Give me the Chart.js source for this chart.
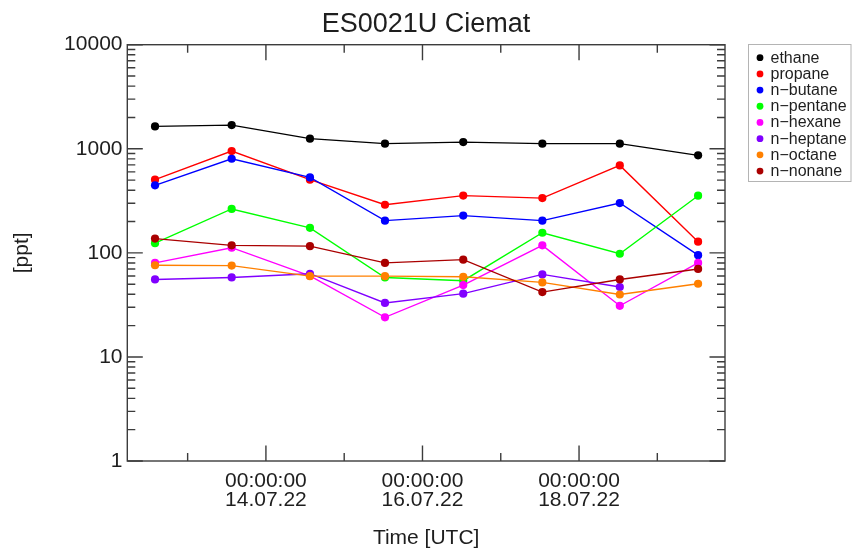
<!DOCTYPE html>
<html>
<head>
<meta charset="utf-8">
<title>ES0021U Ciemat</title>
<script src="https://cdn.jsdelivr.net/npm/chart.js@4/dist/chart.umd.min.js"></script>
<style>
  html, body { margin: 0; padding: 0; background: #ffffff; }
  canvas { display: block; }
</style>
</head>
<body>
<canvas id="chart" width="852" height="553"></canvas>
<script>
// Sampling times (UTC) of the canister samples
const sampleTimes = [
  '2022-07-12T14:00:00Z', '2022-07-13T13:30:00Z', '2022-07-14T13:30:00Z', '2022-07-15T12:30:00Z',
  '2022-07-16T12:30:00Z', '2022-07-17T12:45:00Z', '2022-07-18T12:30:00Z', '2022-07-19T12:30:00Z'
];

// Mixing ratios in ppt
const ethane    = [1640, 1690, 1250, 1120, 1160, 1120, 1120, 865];
const propane   = [505, 950, 505, 290, 355, 336, 692, 128];
const nButane   = [445, 802, 531, 204, 228, 204, 301, 95];
const nPentane  = [124, 264, 174, 58, 54, 156, 98, 354];
const nHexane   = [80, 112, 60, 24, 49, 118, 31, 80];
const nHeptane  = [55.5, 58, 63, 33, 40.5, 62, 47, null];
const nOctane   = [76, 75.5, 59.7, 59.7, 58.9, 52, 39.8, 50.5];
const nNonane   = [137, 118, 116, 80, 86, 42, 55.5, 70];

const seriesNames  = ['ethane', 'propane', 'n\u2212butane', 'n\u2212pentane', 'n\u2212hexane', 'n\u2212heptane', 'n\u2212octane', 'n\u2212nonane'];
const seriesValues = [ethane, propane, nButane, nPentane, nHexane, nHeptane, nOctane, nNonane];
const seriesColors = ['#000000', '#ff0000', '#0000ff', '#00ff00', '#ff00ff', '#8000ff', '#ff8000', '#aa0000'];

// Axis ranges and tick marks
const xRange       = ['2022-07-12T05:30:00Z', '2022-07-19T20:45:00Z'];
const xMajorTicks  = ['2022-07-14T00:00:00Z', '2022-07-16T00:00:00Z', '2022-07-18T00:00:00Z'];
const xMinorTicks  = ['2022-07-13T00:00:00Z', '2022-07-15T00:00:00Z', '2022-07-17T00:00:00Z', '2022-07-19T00:00:00Z'];
const yRange       = [1, 10000];
const yTickLabels  = ['1', '10', '100', '1000', '10000'];

const FONT = "'Liberation Sans', Arial, Helvetica, sans-serif";
const toMs = s => Date.parse(s);
const majorMs = xMajorTicks.map(toMs);
const minorMs = xMinorTicks.map(toMs);
const pad2 = n => String(n).padStart(2, '0');
const isMajor = v => majorMs.some(m => Math.abs(m - v) < 60000);

function timeLabel(ms) {
  const d = new Date(ms);
  return [
    pad2(d.getUTCHours()) + ':' + pad2(d.getUTCMinutes()) + ':' + pad2(d.getUTCSeconds()),
    pad2(d.getUTCDate()) + '.' + pad2(d.getUTCMonth() + 1) + '.' + String(d.getUTCFullYear()).slice(2)
  ];
}

const datasets = seriesNames.map((name, i) => ({
  label: name,
  data: sampleTimes.map((t, k) => ({ x: toMs(t), y: seriesValues[i][k] })),
  borderColor: seriesColors[i],
  backgroundColor: seriesColors[i],
  pointBackgroundColor: seriesColors[i],
  pointBorderWidth: 0,
  pointRadius: 4.1,
  pointHoverRadius: 4.1,
  borderWidth: 1.35,
  spanGaps: false,
  order: seriesNames.length - i
}));

// Box frame with inward major/minor ticks on all four sides
const framePlugin = {
  id: 'frame',
  afterDatasetsDraw(chart) {
    const { ctx, chartArea: { left, right, top, bottom }, scales: { x, y } } = chart;
    ctx.save();
    ctx.strokeStyle = '#3c3c3c';
    ctx.lineWidth = 1.4;
    ctx.strokeRect(left, top, right - left, bottom - top);
    ctx.beginPath();
    const xTick = (v, len) => {
      const px = x.getPixelForValue(v);
      ctx.moveTo(px, bottom); ctx.lineTo(px, bottom - len);
      ctx.moveTo(px, top); ctx.lineTo(px, top + len);
    };
    const yTick = (v, len) => {
      const py = y.getPixelForValue(v);
      ctx.moveTo(left, py); ctx.lineTo(left + len, py);
      ctx.moveTo(right, py); ctx.lineTo(right - len, py);
    };
    majorMs.forEach(v => xTick(v, 15.5));
    minorMs.forEach(v => xTick(v, 8));
    for (let dec = yRange[0]; dec <= yRange[1]; dec *= 10) {
      yTick(dec, 15.5);
      if (dec < yRange[1]) for (let m = 2; m <= 9; m++) yTick(dec * m, 8);
    }
    ctx.stroke();
    ctx.restore();
  }
};

// Boxed legend to the right of the plot
const legendPlugin = {
  id: 'boxLegend',
  afterDraw(chart) {
    const { ctx, chartArea } = chart;
    const bx = chartArea.right + 23.5, by = 44.5, bw = 102.5, bh = 137;
    ctx.save();
    ctx.strokeStyle = '#b4b4b4';
    ctx.lineWidth = 1;
    ctx.strokeRect(bx, by, bw, bh);
    ctx.font = '16px ' + FONT;
    ctx.textBaseline = 'middle';
    ctx.textAlign = 'left';
    chart.data.datasets.forEach((ds, i) => {
      const ry = 57.7 + i * 16.19;
      ctx.fillStyle = ds.pointBackgroundColor;
      ctx.beginPath();
      ctx.arc(bx + 11.5, ry, 3.4, 0, Math.PI * 2);
      ctx.fill();
      ctx.fillStyle = '#1e1e1e';
      ctx.fillText(ds.label, bx + 22, ry + 0.5);
    });
    ctx.restore();
  }
};

new Chart(document.getElementById('chart'), {
  type: 'line',
  data: { datasets },
  plugins: [framePlugin, legendPlugin],
  options: {
    responsive: false,
    animation: false,
    devicePixelRatio: 1,
    layout: { padding: 0 },
    plugins: {
      legend: { display: false },
      tooltip: { enabled: false },
      title: {
        display: true,
        text: 'ES0021U Ciemat',
        color: '#1e1e1e',
        font: { family: FONT, size: 27, weight: 'normal', lineHeight: 1.2 },
        padding: { top: 8.8, bottom: 3.5 }
      }
    },
    scales: {
      x: {
        type: 'linear',
        position: 'bottom',
        min: toMs(xRange[0]),
        max: toMs(xRange[1]),
        grid: { display: false, drawTicks: false },
        border: { display: false },
        afterBuildTicks: s => {
          s.ticks = majorMs.concat(minorMs).sort((a, b) => a - b).map(v => ({ value: v }));
        },
        ticks: {
          autoSkip: false,
          maxRotation: 0,
          minRotation: 0,
          padding: 11.3,
          color: '#1e1e1e',
          font: { family: FONT, size: 21, lineHeight: 0.871 },
          callback: v => (isMajor(v) ? timeLabel(v) : '')
        },
        title: {
          display: true,
          text: 'Time [UTC]',
          color: '#1e1e1e',
          font: { family: FONT, size: 21, lineHeight: 1.2 },
          padding: { top: 0, bottom: 2.4 }
        },
        afterFit: s => { s.height = 92; }
      },
      y: {
        type: 'logarithmic',
        position: 'left',
        min: yRange[0],
        max: yRange[1],
        grid: { display: false, drawTicks: false },
        border: { display: false },
        ticks: {
          autoSkip: false,
          padding: 4.8,
          color: '#1e1e1e',
          font: { family: FONT, size: 21, lineHeight: 1.2 },
          callback: v => { const s = String(v); return yTickLabels.includes(s) ? s : ''; }
        },
        title: {
          display: true,
          text: '[ppt]',
          color: '#1e1e1e',
          font: { family: FONT, size: 21, lineHeight: 1.2 },
          padding: { top: 9.4, bottom: 0 }
        },
        afterFit: s => { s.width = 127.3; }
      },
      legendSpace: {
        type: 'linear',
        position: 'right',
        display: true,
        grid: { display: false, drawTicks: false },
        border: { display: false },
        ticks: { display: false },
        afterFit: s => { s.width = 127; }
      }
    }
  }
});
</script>
</body>
</html>
